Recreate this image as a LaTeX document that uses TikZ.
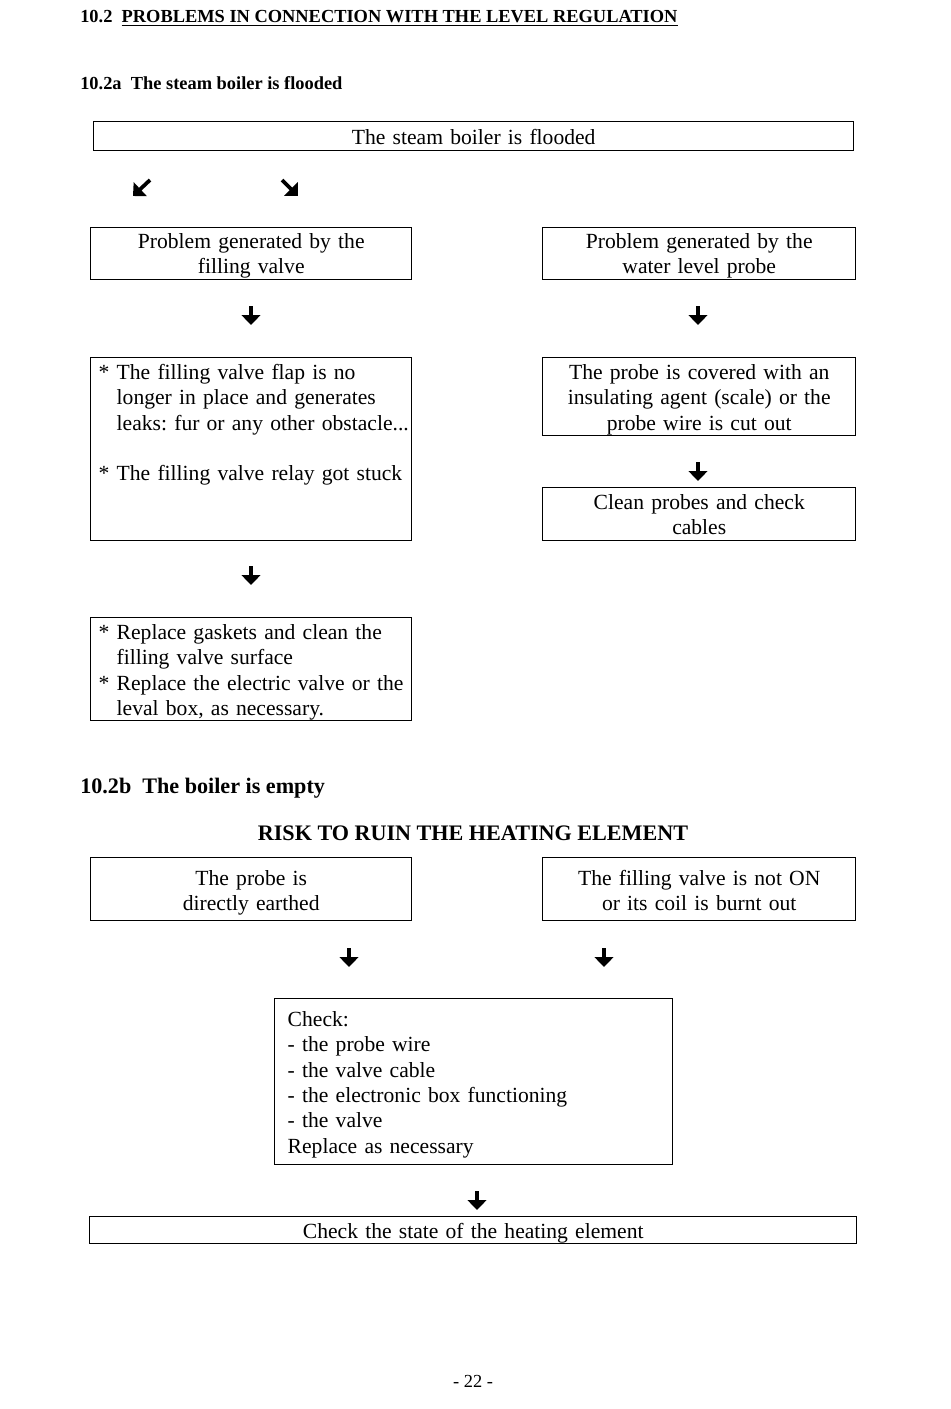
\documentclass[tikz,border=0pt]{standalone}
\usepackage{fontspec}
\setmainfont{Liberation Serif}
\usetikzlibrary{arrows.meta}
\newcommand\bodyfont{\fontsize{16.2}{19.1}\selectfont\frenchspacing}
\newcommand\headfont{\fontsize{13.8}{16}\selectfont\bfseries}
\newcommand\bigheadfont{\fontsize{16.6}{19.1}\selectfont\bfseries}
\begin{document}
\begin{tikzpicture}[x=0.75pt,y=-0.75pt,
  box/.style={draw, line width=1.1pt, inner ysep=0pt, anchor=north west, font=\bodyfont},
  cbox/.style={box, align=center, inner xsep=3pt},
  lbox/.style={box, align=left, inner xsep=6pt},
  bigarrow/.style={line width=2.8pt, -{Triangle[length=7.5pt,width=14pt]}},
  heading/.style={anchor=base west, inner sep=0pt}]
\fill[white] (0,0) rectangle (950,1409);
\useasboundingbox (0,0) rectangle (950,1409);

% headings
\node[heading, font=\headfont] (h1) at (80,23) {10.2\ \ \underline{PROBLEMS IN CONNECTION WITH THE LEVEL REGULATION}};
\node[heading, font=\headfont] (h2) at (80,90) {10.2a\ \ The steam boiler is flooded};

% part a
\node[cbox, text width=564pt, text height=16.75pt, text depth=5pt] (top) at (93,121) {The steam boiler is flooded};

\node[cbox, text width=234.75pt, text height=15.25pt, text depth=23.75pt] (L1) at (90,227) {Problem generated by the\\filling valve};
\node[cbox, text width=228.75pt, text height=15.25pt, text depth=23.75pt] (R1) at (542,227) {Problem generated by the\\water level probe};

\node[lbox, text width=228.75pt, text height=16pt, text depth=121.25pt] (L2) at (90,357)
  {\mbox{* The filling valve flap is no}\\
   \mbox{\phantom{*}\ longer in place and generates}\\
   \mbox{\phantom{*}\ leaks: fur or any other obstacle...}\\[19.1pt]
   \mbox{* The filling valve relay got stuck}};
\node[cbox, text width=228.75pt, text height=16pt, text depth=42.5pt] (R2) at (542,357)
  {The probe is covered with an\\insulating agent (scale) or the\\probe wire is cut out};
\node[cbox, text width=228.75pt, text height=16pt, text depth=23.75pt] (R3) at (542,487)
  {Clean probes and check\\cables};
\node[lbox, text width=228.75pt, text height=16pt, text depth=61.25pt] (L3) at (90,617)
  {\mbox{* Replace gaskets and clean the}\\
   \mbox{\phantom{*}\ filling valve surface}\\
   \mbox{* Replace the electric valve or the}\\
   \mbox{\phantom{*}\ leval box, as necessary.}};

% part b
\node[heading, font=\bigheadfont] (h3) at (80,793) {10.2b\ \ The boiler is empty};
\node[anchor=base, inner sep=0pt, font=\bigheadfont] (risk) at (473,840) {RISK TO RUIN THE HEATING ELEMENT};

\node[cbox, text width=234.75pt, text height=20.5pt, text depth=26.75pt] (L4) at (90,857) {The probe is\\directly earthed};
\node[cbox, text width=228.75pt, text height=20.5pt, text depth=26.75pt] (R4) at (542,857) {The filling valve is not ON\\or its coil is burnt out};

\node[box, align=left, inner xsep=9.75pt, text width=279pt, text height=20.5pt, text depth=104pt] (C) at (274,998)
  {Check:\\- the probe wire\\- the valve cable\\- the electronic box functioning\\- the valve\\Replace as necessary};

\node[cbox, text width=569.25pt, text height=16pt, text depth=4.25pt] (bot) at (89,1216) {Check the state of the heating element};

\node[anchor=base, inner sep=0pt, font=\fontsize{13.8}{16}\selectfont] (page) at (473,1387) {- 22 -};

% arrows
\coordinate (d1a) at (150,180); \coordinate (d1b) at (133,196);
\coordinate (d2a) at (282,180); \coordinate (d2b) at (298,196);
\coordinate (a1a) at (251,306); \coordinate (a1b) at (251,325);
\coordinate (a2a) at (698,306); \coordinate (a2b) at (698,325);
\coordinate (a3a) at (698,462); \coordinate (a3b) at (698,481);
\coordinate (a4a) at (251,566); \coordinate (a4b) at (251,585);
\coordinate (a5a) at (349,948); \coordinate (a5b) at (349,967);
\coordinate (a6a) at (604,948); \coordinate (a6b) at (604,967);
\coordinate (a7a) at (477,1191); \coordinate (a7b) at (477,1210);
\foreach \s/\e in {d1a/d1b,d2a/d2b,a1a/a1b,a2a/a2b,a3a/a3b,a4a/a4b,a5a/a5b,a6a/a6b,a7a/a7b}
  \draw[bigarrow] (\s) -- (\e);
\end{tikzpicture}
\end{document}
